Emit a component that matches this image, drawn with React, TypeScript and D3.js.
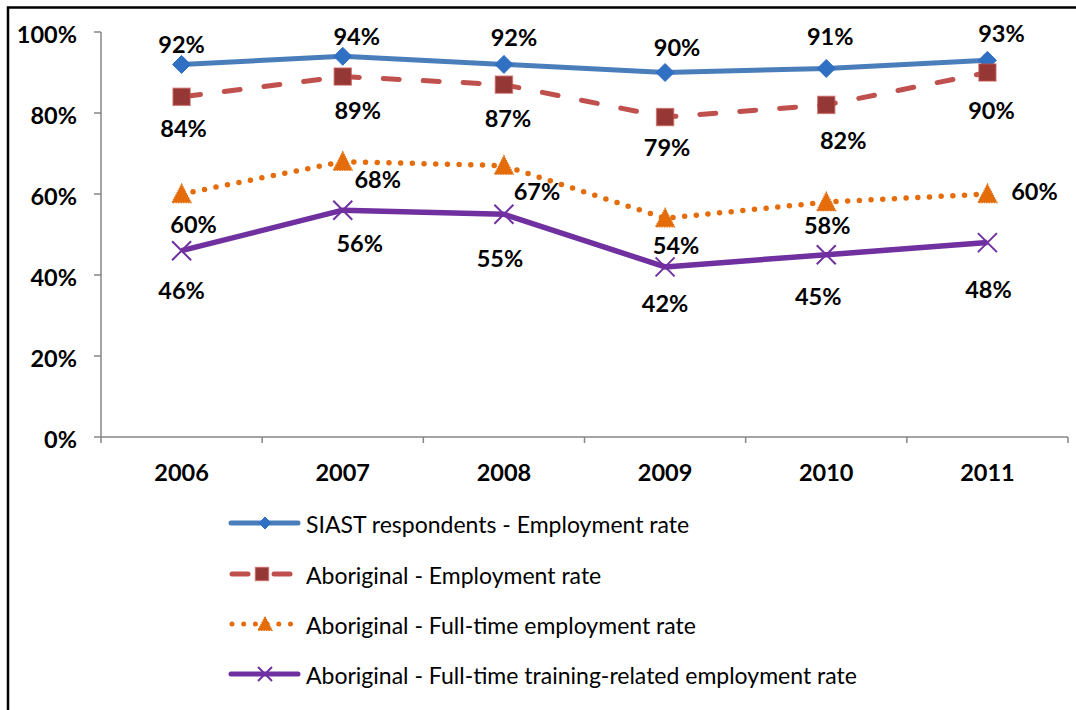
import React from "react";
import * as d3 from "d3";

const years = ["2006", "2007", "2008", "2009", "2010", "2011"];
const siastEmployment = [0.92, 0.94, 0.92, 0.9, 0.91, 0.93];
const aborigEmployment = [0.84, 0.89, 0.87, 0.79, 0.82, 0.9];
const aborigFullTime = [0.6, 0.68, 0.67, 0.54, 0.58, 0.6];
const aborigTraining = [0.46, 0.56, 0.55, 0.42, 0.45, 0.48];
const yTicks = [0, 0.2, 0.4, 0.6, 0.8, 1.0];
const seriesNames = [
  "SIAST respondents - Employment rate",
  "Aboriginal - Employment rate",
  "Aboriginal - Full-time employment rate",
  "Aboriginal - Full-time training-related employment rate",
];

// label offsets (dx, dy) from the point, in pixels
const labelOffsets = [
  [[0, -20], [14, -20], [10, -27], [12, -26], [4, -32], [14, -27]],
  [[2, 31], [15, 33], [4, 33], [2, 29.5], [17, 35], [4, 37.5]],
  [[12, 30], [35, 17.5], [33, 25], [11, 27], [1, 22.6], [47, -3.5]],
  [[0, 39], [17, 33], [-4, 44], [0, 35.6], [-8, 41], [1, 46.5]],
];

const W = 1076;
const H = 710;
const FONT = "Lato, 'Noto Sans', sans-serif";

const x = d3.scaleBand<string>().domain(years).range([101, 1068]).padding(0);
const y = d3.scaleLinear().domain([0, 1]).range([437, 32]);
const cx = (yr: string) => (x(yr) as number) + x.bandwidth() / 2;
const line = d3
  .line<number>()
  .x((_, i) => cx(years[i]))
  .y((v) => y(v));

const BLUE = "#4A7EBB";
const BLUE_M = "#2F70C2";
const RED = "#C0504D";
const RED_M = "#953735";
const ORANGE = "#E46C0A";
const PURPLE = "#7030A0";

function Diamond({ px, py, r }: { px: number; py: number; r: number }) {
  return (
    <path
      d={`M${px},${py - r} L${px + r},${py} L${px},${py + r} L${px - r},${py} Z`}
      fill={BLUE_M}
      stroke={BLUE_M}
      strokeWidth={1}
    />
  );
}
function Square({ px, py, s }: { px: number; py: number; s: number }) {
  return (
    <rect
      x={px - s / 2}
      y={py - s / 2}
      width={s}
      height={s}
      fill={RED_M}
      stroke={RED}
      strokeOpacity={0.6}
      strokeWidth={1.5}
    />
  );
}
function Triangle({ px, py, r }: { px: number; py: number; r: number }) {
  return (
    <path
      d={`M${px},${py - r * 1.05} L${px + r},${py + r * 0.9} L${px - r},${py + r * 0.9} Z`}
      fill={ORANGE}
      stroke={ORANGE}
      strokeWidth={1.2}
      strokeDasharray="1.5 1"
    />
  );
}
function Cross({ px, py, r }: { px: number; py: number; r: number }) {
  return (
    <path
      d={`M${px - r},${py - r} L${px + r},${py + r} M${px - r},${py + r} L${px + r},${py - r}`}
      stroke={PURPLE}
      strokeWidth={2}
      fill="none"
    />
  );
}

function Labels({ data, idx }: { data: number[]; idx: number }) {
  return (
    <g>
      {data.map((v, i) => (
        <text
          key={i}
          x={cx(years[i]) + labelOffsets[idx][i][0]}
          y={y(v) + labelOffsets[idx][i][1]}
          textAnchor="middle"
          dominantBaseline="central"
          fontFamily={FONT}
          fontWeight="bold"
          fontSize={23.5}
          fill="#000"
        >
          {Math.round(v * 100)}%
        </text>
      ))}
    </g>
  );
}

export default function App() {
  const legendY = [523, 574, 624, 674];
  return (
    <svg
      width={W}
      height={H}
      viewBox={`0 0 ${W} ${H}`}
      style={{ position: "absolute", left: 0, top: 0, background: "#fff" }}
    >
      <rect x={0} y={0} width={W} height={H} fill="#fff" />
      <path d={`M8,${H + 5} L8,7.5 L${W + 5},7.5`} fill="none" stroke="#000" strokeWidth={2.5} />

      {/* axes */}
      <line x1={101} x2={101} y1={y(1)} y2={y(0)} stroke="#868686" strokeWidth={1.5} />
      {yTicks.map((t) => (
        <g key={t}>
          <line x1={94} x2={101} y1={y(t)} y2={y(t)} stroke="#868686" strokeWidth={1.5} />
          <text
            x={77}
            y={y(t) + 1.5}
            textAnchor="end"
            dominantBaseline="central"
            fontFamily={FONT}
            fontWeight="bold"
            fontSize={23.5}
          >
            {Math.round(t * 100)}%
          </text>
        </g>
      ))}
      <line x1={101} x2={1068} y1={y(0)} y2={y(0)} stroke="#868686" strokeWidth={1.5} />
      {years.concat(["end"]).map((yr, i) => {
        const xx = i < years.length ? (x(yr) as number) : 1068;
        return (
          <line key={i} x1={xx} x2={xx} y1={y(0)} y2={y(0) + 6} stroke="#868686" strokeWidth={1.5} />
        );
      })}
      {years.map((yr) => (
        <text
          key={yr}
          x={cx(yr)}
          y={471.5}
          textAnchor="middle"
          dominantBaseline="central"
          fontFamily={FONT}
          fontWeight="bold"
          fontSize={23.5}
        >
          {yr}
        </text>
      ))}

      {/* series lines */}
      <path d={line(siastEmployment) || ""} fill="none" stroke={BLUE} strokeWidth={5} strokeLinejoin="round" />
      <path
        d={line(aborigEmployment) || ""}
        fill="none"
        stroke={RED}
        strokeWidth={5}
        strokeLinecap="round"
        strokeDasharray="16 24"
        strokeDashoffset={-3}
      />
      <path
        d={line(aborigFullTime) || ""}
        fill="none"
        stroke={ORANGE}
        strokeWidth={5.5}
        strokeLinecap="round"
        strokeDasharray="0 11.7"
      />
      <path d={line(aborigTraining) || ""} fill="none" stroke={PURPLE} strokeWidth={5.5} strokeLinejoin="round" />

      {/* markers */}
      {siastEmployment.map((v, i) => (
        <Diamond key={i} px={cx(years[i])} py={y(v)} r={9} />
      ))}
      {aborigEmployment.map((v, i) => (
        <Square key={i} px={cx(years[i])} py={y(v)} s={17} />
      ))}
      {aborigFullTime.map((v, i) => (
        <Triangle key={i} px={cx(years[i])} py={y(v)} r={9.5} />
      ))}
      {aborigTraining.map((v, i) => (
        <Cross key={i} px={cx(years[i])} py={y(v)} r={9.5} />
      ))}

      {/* labels */}
      <Labels data={siastEmployment} idx={0} />
      <Labels data={aborigEmployment} idx={1} />
      <Labels data={aborigFullTime} idx={2} />
      <Labels data={aborigTraining} idx={3} />

      {/* legend */}
      <g>
        <line x1={231} x2={298} y1={legendY[0]} y2={legendY[0]} stroke={BLUE} strokeWidth={5} strokeLinecap="round" />
        <Diamond px={265} py={legendY[0]} r={6} />

        <line x1={232} x2={248} y1={legendY[1]} y2={legendY[1]} stroke={RED} strokeWidth={5} strokeLinecap="round" />
        <line x1={274} x2={290} y1={legendY[1]} y2={legendY[1]} stroke={RED} strokeWidth={5} strokeLinecap="round" />
        <Square px={262} py={legendY[1]} s={13} />

        <line
          x1={232}
          x2={292}
          y1={legendY[2]}
          y2={legendY[2]}
          stroke={ORANGE}
          strokeWidth={5}
          strokeLinecap="round"
          strokeDasharray="0 11.7"
        />
        <Triangle px={265} py={legendY[2]} r={7} />

        <line x1={231} x2={298} y1={legendY[3]} y2={legendY[3]} stroke={PURPLE} strokeWidth={5} strokeLinecap="round" />
        <Cross px={265} py={legendY[3]} r={7} />

        {seriesNames.map((n, i) => (
          <text
            key={n}
            x={306}
            y={legendY[i] + 1}
            dominantBaseline="central"
            fontFamily={FONT}
            fontSize={23}
            fill="#000"
          >
            {n}
          </text>
        ))}
      </g>
    </svg>
  );
}
